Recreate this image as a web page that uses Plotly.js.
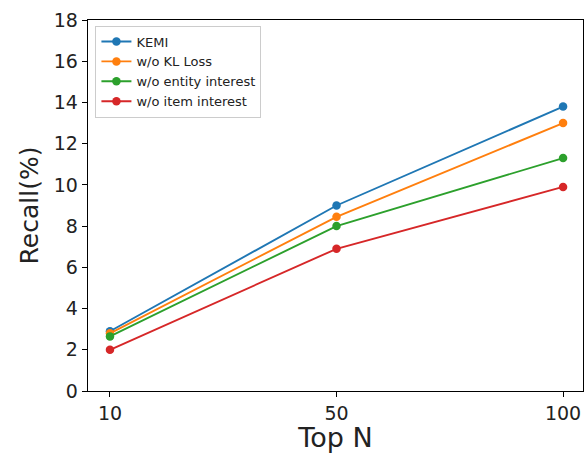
<!DOCTYPE html>
<html><head><meta charset="utf-8">
<script src="https://cdn.plot.ly/plotly-3.0.1.min.js"></script>
<style>html,body{margin:0;padding:0;background:#fff}#c{width:584px;height:453px}</style>
</head><body><div id="c"></div>
<script>
const topN = ['10', '50', '100'];
const seriesNames = ['KEMI', 'w/o KL Loss', 'w/o entity interest', 'w/o item interest'];
const kemi = [2.9, 9.0, 13.8];
const woKL = [2.8, 8.45, 13.0];
const woEntity = [2.65, 8.0, 11.3];
const woItem = [2.0, 6.9, 9.9];
const yTicks = [0, 2, 4, 6, 8, 10, 12, 14, 16, 18];
const colors = ['#1f77b4', '#ff7f0e', '#2ca02c', '#d62728'];
const allSeries = [kemi, woKL, woEntity, woItem];

const traces = allSeries.map((v, i) => ({
  x: topN, y: v, name: seriesNames[i], type: 'scatter', mode: 'lines+markers',
  line: {color: colors[i], width: 1.9},
  marker: {color: colors[i], size: 8.5}
}));

const layout = {
  width: 584, height: 453,
  margin: {l: 88, r: 1, t: 20, b: 62},
  paper_bgcolor: '#fff', plot_bgcolor: '#fff',
  font: {family: 'DejaVu Sans', color: '#222'},
  showlegend: true,
  legend: {x: 0.015, y: 0.985, xanchor: 'left', yanchor: 'top',
    bgcolor: 'rgba(255,255,255,0.8)', bordercolor: '#ccc', borderwidth: 1,
    font: {size: 13, color: '#222'}, tracegroupgap: 0, itemwidth: 30},
  xaxis: {type: 'category', range: [-0.097, 2.088], showline: true, mirror: true,
    linecolor: '#000', linewidth: 1.3, ticks: 'outside', ticklen: 5, tickcolor: '#000',
    showgrid: false, zeroline: false, tickfont: {size: 19},
    title: {text: 'Top N', font: {size: 27}, standoff: 4}},
  yaxis: {range: [0, 18], tickvals: yTicks, showline: true, mirror: true,
    linecolor: '#000', linewidth: 1.3, ticks: 'outside', ticklen: 5, tickcolor: '#000',
    showgrid: false, zeroline: false, tickfont: {size: 19},
    title: {text: 'Recall(%)', font: {size: 25}, standoff: 8}}
};
Plotly.newPlot('c', traces, layout, {displayModeBar: false, staticPlot: true});
</script></body></html>
